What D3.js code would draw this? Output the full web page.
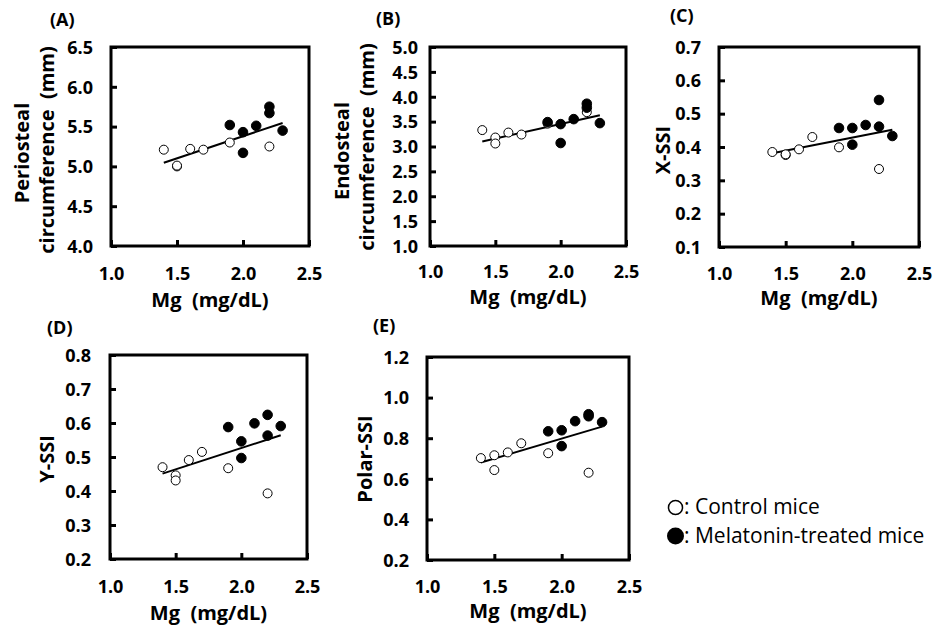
<!DOCTYPE html>
<html>
<head>
<meta charset="utf-8">
<script src="https://cdn.jsdelivr.net/npm/d3@7"></script>
<style>
  body { margin: 0; background: #fff; }
  svg { display: block; }
  text { font-family: "Open Sans", "Noto Sans", sans-serif; fill: #000; }
</style>
</head>
<body>
<svg id="chart" width="938" height="633"></svg>
<script>
// ---- data ----
const mgControl = [1.4, 1.5, 1.5, 1.6, 1.7, 1.9, 2.2];
const mgTreated = [1.9, 2.0, 2.0, 2.1, 2.2, 2.2, 2.3];
const trendX = [1.4, 2.3];
const xTicks = [1.0, 1.5, 2.0, 2.5];

const periControl = [5.21, 5.00, 5.01, 5.22, 5.21, 5.30, 5.25];
const periTreated = [5.52, 5.43, 5.17, 5.51, 5.75, 5.67, 5.45];
const periTrend = [5.046, 5.546];
const periTicks = [4.0, 4.5, 5.0, 5.5, 6.0, 6.5];

const endoControl = [3.33, 3.18, 3.06, 3.28, 3.24, 3.46, 3.69];
const endoTreated = [3.49, 3.45, 3.07, 3.55, 3.86, 3.78, 3.47];
const endoTrend = [3.10, 3.63];
const endoTicks = [1.0, 1.5, 2.0, 2.5, 3.0, 3.5, 4.0, 4.5, 5.0];

const xssiControl = [0.385, 0.376, 0.378, 0.393, 0.430, 0.399, 0.334];
const xssiTreated = [0.457, 0.457, 0.407, 0.466, 0.541, 0.461, 0.433];
const xssiTrend = [0.381, 0.452];
const xssiTicks = [0.1, 0.2, 0.3, 0.4, 0.5, 0.6, 0.7];

const yssiControl = [0.470, 0.446, 0.431, 0.491, 0.515, 0.467, 0.393];
const yssiTreated = [0.588, 0.546, 0.497, 0.599, 0.624, 0.563, 0.591];
const yssiTrend = [0.451, 0.564];
const yssiTicks = [0.2, 0.3, 0.4, 0.5, 0.6, 0.7, 0.8];

const polarControl = [0.702, 0.716, 0.643, 0.730, 0.775, 0.726, 0.630];
const polarTreated = [0.834, 0.839, 0.761, 0.884, 0.918, 0.908, 0.879];
const polarTrend = [0.680, 0.857];
const polarTicks = [0.2, 0.4, 0.6, 0.8, 1.0, 1.2];

const legendLabels = [": Control mice", ": Melatonin-treated mice"];

// ---- panels (layout) ----
const panels = [
  { tag: "(A)", tagX: 50, tagY: 20, box: [111, 309, 47, 246], yGap: 18, xLabOff: 28, xTitleY: 300,
    ticks: periTicks, ctrl: periControl, trt: periTreated, trend: periTrend,
    yTitle: [{ t: "Periosteal", x: 22, c: 153 }, { t: "circumference  (mm)", x: 47, c: 150 }] },
  { tag: "(B)", tagX: 376, tagY: 19, box: [430, 626, 47, 246], yGap: 12, xLabOff: 26, xTitleY: 297,
    ticks: endoTicks, ctrl: endoControl, trt: endoTreated, trend: endoTrend,
    yTitle: [{ t: "Endosteal", x: 342, c: 151 }, { t: "circumference  (mm)", x: 367, c: 147 }] },
  { tag: "(C)", tagX: 670, tagY: 16, box: [719, 919, 47, 247], yGap: 18, xLabOff: 27, xTitleY: 298,
    ticks: xssiTicks, ctrl: xssiControl, trt: xssiTreated, trend: xssiTrend,
    yTitle: [{ t: "X-SSI", x: 663, c: 150 }] },
  { tag: "(D)", tagX: 47, tagY: 328, box: [110, 307, 355, 559], yGap: 19, xLabOff: 28, xTitleY: 613,
    ticks: yssiTicks, ctrl: yssiControl, trt: yssiTreated, trend: yssiTrend,
    yTitle: [{ t: "Y-SSI", x: 47, c: 459 }] },
  { tag: "(E)", tagX: 373, tagY: 326, box: [427, 629, 357, 560], yGap: 18, xLabOff: 27, xTitleY: 611,
    ticks: polarTicks, ctrl: polarControl, trt: polarTreated, trend: polarTrend,
    yTitle: [{ t: "Polar-SSI", x: 365, c: 459 }] }
];

const svg = d3.select("#chart");
const R = 4.5;

panels.forEach(p => {
  const [x0, x1, y0, y1] = p.box;
  const x = d3.scaleLinear().domain([xTicks[0], xTicks[xTicks.length - 1]]).range([x0, x1]);
  const y = d3.scaleLinear().domain([p.ticks[0], p.ticks[p.ticks.length - 1]]).range([y1, y0]);
  const g = svg.append("g");

  // x axis
  const xa = g.append("g").attr("transform", `translate(0,${y1})`)
    .call(d3.axisBottom(x).tickValues(xTicks).tickFormat(d3.format(".1f")).tickSize(-6));
  xa.select(".domain").remove();
  xa.selectAll("line").attr("stroke", "#000").attr("stroke-width", 3);
  xa.selectAll("text").attr("y", p.xLabOff).attr("dy", "0.35em")
    .style("font-size", "18px").style("font-weight", "bold").attr("fill", "#000");

  // y axis
  const ya = g.append("g").attr("transform", `translate(${x0},0)`)
    .call(d3.axisLeft(y).tickValues(p.ticks).tickFormat(d3.format(".1f")).tickSize(-6).tickPadding(p.yGap));
  ya.select(".domain").remove();
  ya.selectAll("line").attr("stroke", "#000").attr("stroke-width", 3);
  ya.selectAll("text").attr("x", -p.yGap).attr("dy", "0.35em")
    .style("font-size", "18px").style("font-weight", "bold").attr("fill", "#000");

  // frame
  g.append("rect").attr("x", x0).attr("y", y0).attr("width", x1 - x0).attr("height", y1 - y0)
    .attr("fill", "none").attr("stroke", "#000").attr("stroke-width", 3);

  // trend line
  g.append("line")
    .attr("x1", x(trendX[0])).attr("y1", y(p.trend[0]))
    .attr("x2", x(trendX[1])).attr("y2", y(p.trend[1]))
    .attr("stroke", "#000").attr("stroke-width", 2);

  // points
  g.selectAll(".ctrl").data(mgControl.map((m, i) => [m, p.ctrl[i]])).join("circle")
    .attr("cx", d => x(d[0])).attr("cy", d => y(d[1])).attr("r", R)
    .attr("fill", "#fff").attr("stroke", "#000").attr("stroke-width", 1);
  g.selectAll(".trt").data(mgTreated.map((m, i) => [m, p.trt[i]])).join("circle")
    .attr("cx", d => x(d[0])).attr("cy", d => y(d[1])).attr("r", R + 0.3)
    .attr("fill", "#000").attr("stroke", "#000").attr("stroke-width", 1);

  // titles
  g.append("text").attr("x", (x0 + x1) / 2).attr("y", p.xTitleY).attr("dy", "0.35em")
    .attr("text-anchor", "middle").style("font-size", "20px").style("font-weight", "bold")
    .style("white-space", "pre").text("Mg  (mg/dL)");
  p.yTitle.forEach(t => {
    g.append("text").attr("transform", `translate(${t.x},${t.c}) rotate(-90)`).attr("dy", "0.35em")
      .attr("text-anchor", "middle").style("font-size", "20px").style("font-weight", "bold")
      .style("white-space", "pre").text(t.t);
  });
  g.append("text").attr("x", p.tagX).attr("y", p.tagY).attr("dy", "0.35em")
    .style("font-size", "18px").style("font-weight", "bold").text(p.tag);
});

// legend
const leg = svg.append("g");
leg.append("circle").attr("cx", 675.5).attr("cy", 507.5).attr("r", 7)
  .attr("fill", "#fff").attr("stroke", "#000").attr("stroke-width", 1.5);
leg.append("circle").attr("cx", 675.5).attr("cy", 536).attr("r", 8.5).attr("fill", "#000");
leg.selectAll("text.lg").data(legendLabels).join("text")
  .attr("x", 684).attr("y", (d, i) => i === 0 ? 507 : 536).attr("dy", "0.35em")
  .style("font-size", "21px").text(d => d);
</script>
</body>
</html>
